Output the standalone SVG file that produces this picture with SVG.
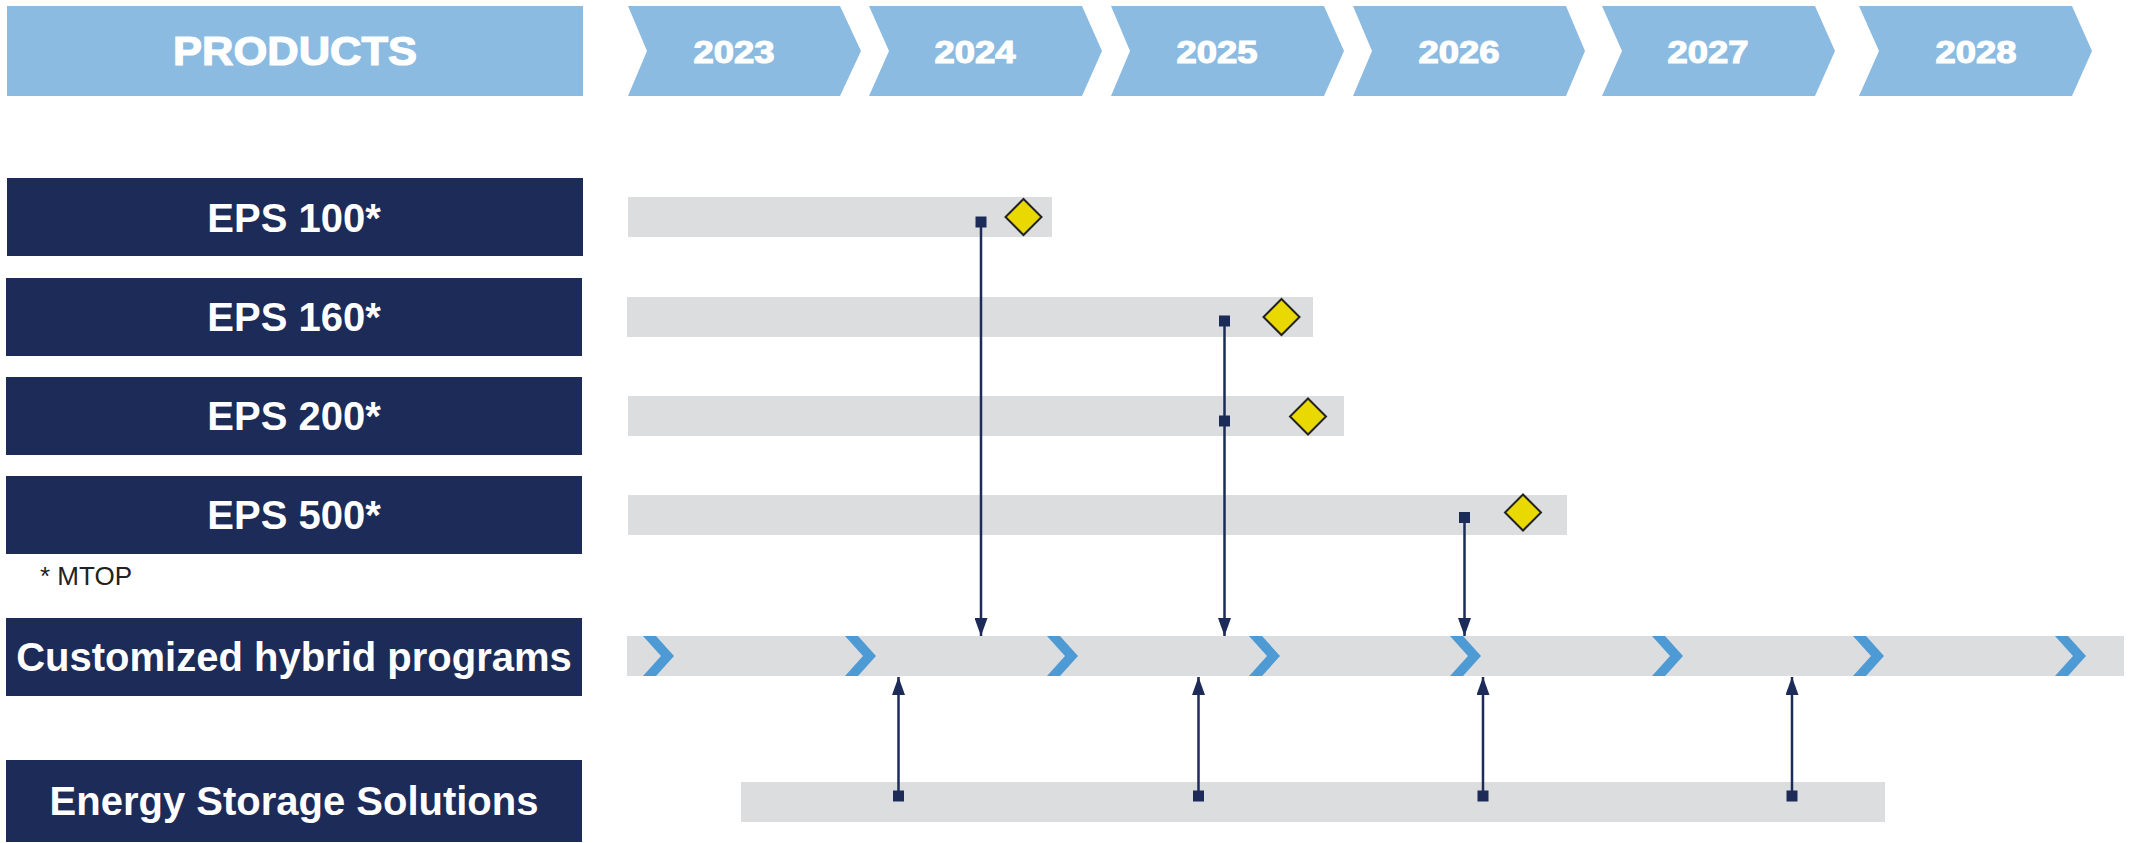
<svg xmlns="http://www.w3.org/2000/svg" width="2140" height="843" viewBox="0 0 2140 843">
  <defs>
    <style>
      .hdr { fill: #8CBBE2; }
      .hdrtxt { font-family: "Liberation Sans", Arial, sans-serif; font-weight: bold; fill: #ffffff; stroke: #ffffff; stroke-width: 1.2; text-anchor: middle; }
      .panel { fill: #1C2B58; }
      .ptxt { font-family: "Liberation Sans", Arial, sans-serif; font-weight: bold; fill: #ffffff; text-anchor: middle; font-size: 40px; }
      .bar { fill: #DCDDDF; }
      .chev { fill: #4E9AD4; }
      .dia { fill: #EAD900; stroke: #222222; stroke-width: 2; }
      .sq { fill: #1C2B58; }
      .conn { stroke: #1C2B58; stroke-width: 2.5; fill: none; }
      .note { font-family: "Liberation Sans", Arial, sans-serif; font-size: 26px; fill: #222222; }
    </style>
    <marker id="arrow" markerUnits="userSpaceOnUse" markerWidth="18" markerHeight="13" refX="18" refY="6.5" orient="auto">
      <path d="M0,0 L18,6.5 L0,13 z" fill="#1C2B58"/>
    </marker>
  </defs>

  <g id="header-products">
    <rect class="hdr" x="7" y="6" width="576" height="90"/>
    <text class="hdrtxt" x="295" y="65" font-size="40" textLength="244" lengthAdjust="spacingAndGlyphs">PRODUCTS</text>
  </g>

  <g id="year-2023">
    <polygon class="hdr" points="628,6 840,6 861,51 840,96 628,96 647,51"/>
    <text class="hdrtxt" x="734" y="63" font-size="32" textLength="81" lengthAdjust="spacingAndGlyphs">2023</text>
  </g>
  <g id="year-2024">
    <polygon class="hdr" points="869,6 1082,6 1102,51 1082,96 869,96 889,51"/>
    <text class="hdrtxt" x="975" y="63" font-size="32" textLength="81" lengthAdjust="spacingAndGlyphs">2024</text>
  </g>
  <g id="year-2025">
    <polygon class="hdr" points="1111,6 1324,6 1344,51 1324,96 1111,96 1130,51"/>
    <text class="hdrtxt" x="1217" y="63" font-size="32" textLength="81" lengthAdjust="spacingAndGlyphs">2025</text>
  </g>
  <g id="year-2026">
    <polygon class="hdr" points="1353,6 1566,6 1585,51 1566,96 1353,96 1372,51"/>
    <text class="hdrtxt" x="1459" y="63" font-size="32" textLength="81" lengthAdjust="spacingAndGlyphs">2026</text>
  </g>
  <g id="year-2027">
    <polygon class="hdr" points="1602,6 1815,6 1835,51 1815,96 1602,96 1622,51"/>
    <text class="hdrtxt" x="1708" y="63" font-size="32" textLength="81" lengthAdjust="spacingAndGlyphs">2027</text>
  </g>
  <g id="year-2028">
    <polygon class="hdr" points="1859,6 2072,6 2092,51 2072,96 1859,96 1879,51"/>
    <text class="hdrtxt" x="1976" y="63" font-size="32" textLength="81" lengthAdjust="spacingAndGlyphs">2028</text>
  </g>

  <g id="eps100">
    <rect class="panel" x="7" y="178" width="576" height="78"/>
    <text class="ptxt" x="294" y="232">EPS 100*</text>
    <rect class="bar" x="628" y="197" width="424" height="40"/>
  </g>
  <g id="eps160">
    <rect class="panel" x="6" y="278" width="576" height="78"/>
    <text class="ptxt" x="294" y="331">EPS 160*</text>
    <rect class="bar" x="627" y="297" width="686" height="40"/>
  </g>
  <g id="eps200">
    <rect class="panel" x="6" y="377" width="576" height="78"/>
    <text class="ptxt" x="294" y="430">EPS 200*</text>
    <rect class="bar" x="628" y="396" width="716" height="40"/>
  </g>
  <g id="eps500">
    <rect class="panel" x="6" y="476" width="576" height="78"/>
    <text class="ptxt" x="294" y="529">EPS 500*</text>
    <rect class="bar" x="628" y="495" width="939" height="40"/>
  </g>

  <g id="footnote">
    <text class="note" x="40" y="585">* MTOP</text>
  </g>

  <g id="hybrid">
    <rect class="panel" x="6" y="618" width="576" height="78"/>
    <text class="ptxt" x="294" y="671">Customized hybrid programs</text>
    <rect class="bar" x="627" y="636" width="1497" height="40"/>
    <polygon class="chev" points="643,636 656,636 674,656 656,676 643,676 661,656"/>
    <polygon class="chev" points="845,636 858,636 876,656 858,676 845,676 863,656"/>
    <polygon class="chev" points="1047,636 1060,636 1078,656 1060,676 1047,676 1065,656"/>
    <polygon class="chev" points="1249,636 1262,636 1280,656 1262,676 1249,676 1267,656"/>
    <polygon class="chev" points="1450,636 1463,636 1481,656 1463,676 1450,676 1468,656"/>
    <polygon class="chev" points="1652,636 1665,636 1683,656 1665,676 1652,676 1670,656"/>
    <polygon class="chev" points="1853,636 1866,636 1884,656 1866,676 1853,676 1871,656"/>
    <polygon class="chev" points="2055,636 2068,636 2086,656 2068,676 2055,676 2073,656"/>
  </g>

  <g id="energy-storage">
    <rect class="panel" x="6" y="760" width="576" height="82"/>
    <text class="ptxt" x="294" y="815">Energy Storage Solutions</text>
    <rect class="bar" x="741" y="782" width="1144" height="40"/>
  </g>

  <g id="milestones">
    <polygon class="dia" points="1023.5,199 1041.5,217 1023.5,235 1005.5,217"/>
    <polygon class="dia" points="1281.5,299 1299.5,317 1281.5,335 1263.5,317"/>
    <polygon class="dia" points="1308,398.5 1326,416.5 1308,434.5 1290,416.5"/>
    <polygon class="dia" points="1523,494.5 1541,512.5 1523,530.5 1505,512.5"/>
  </g>

  <g id="connectors">
    <line class="conn" x1="981" y1="222" x2="981" y2="636" marker-end="url(#arrow)"/>
    <line class="conn" x1="1224.5" y1="321" x2="1224.5" y2="636" marker-end="url(#arrow)"/>
    <line class="conn" x1="1464.5" y1="517.5" x2="1464.5" y2="636" marker-end="url(#arrow)"/>
    <line class="conn" x1="898.5" y1="796" x2="898.5" y2="677" marker-end="url(#arrow)"/>
    <line class="conn" x1="1198.5" y1="796" x2="1198.5" y2="677" marker-end="url(#arrow)"/>
    <line class="conn" x1="1483" y1="796" x2="1483" y2="677" marker-end="url(#arrow)"/>
    <line class="conn" x1="1792" y1="796" x2="1792" y2="677" marker-end="url(#arrow)"/>
    <rect class="sq" x="975.5" y="216.5" width="11" height="11"/>
    <rect class="sq" x="1219" y="315.5" width="11" height="11"/>
    <rect class="sq" x="1219" y="415.5" width="11" height="11"/>
    <rect class="sq" x="1459" y="512" width="11" height="11"/>
    <rect class="sq" x="893" y="790.5" width="11" height="11"/>
    <rect class="sq" x="1193" y="790.5" width="11" height="11"/>
    <rect class="sq" x="1477.5" y="790.5" width="11" height="11"/>
    <rect class="sq" x="1786.5" y="790.5" width="11" height="11"/>
  </g>
</svg>
